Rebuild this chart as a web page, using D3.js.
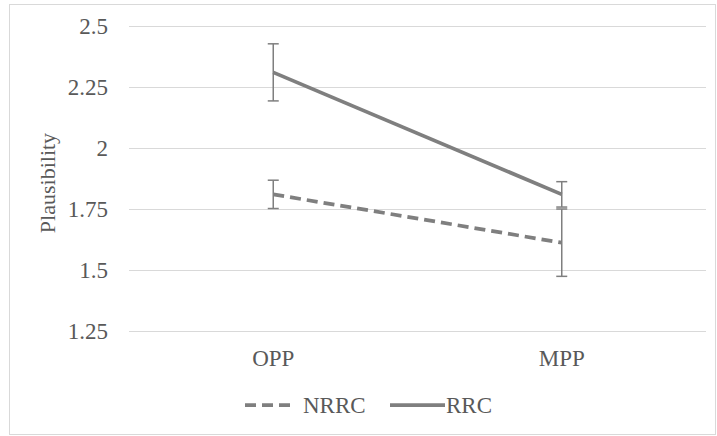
<!DOCTYPE html>
<html>
<head>
<meta charset="utf-8">
<script src="https://cdn.jsdelivr.net/npm/d3@7"></script>
<style>
  body { margin: 0; background: #fff; }
</style>
</head>
<body>
<script>
// chart values
var categories = ["OPP", "MPP"];
var seriesNames = ["NRRC", "RRC"];
var nrrcMeans = [1.81, 1.612];
var nrrcErrors = [0.058, 0.138];
var rrcMeans = [2.31, 1.81];
var rrcErrors = [0.117, 0.052];
var yTicks = [1.25, 1.5, 1.75, 2, 2.25, 2.5];

var width = 717, height = 436;
var margin = {top: 26, right: 11, bottom: 105, left: 129};
var lineColor = "#7f7f7f";
var fontFamily = "'Liberation Serif', 'Times New Roman', serif";

var svg = d3.select("body").append("svg")
  .attr("width", width)
  .attr("height", height);

// outer border
svg.append("rect")
  .attr("x", 9.5).attr("y", 4.5)
  .attr("width", 706).attr("height", 430)
  .style("fill", "none")
  .style("stroke", "#d9d9d9")
  .style("stroke-width", 1);

var x = d3.scaleBand().domain(categories)
  .range([margin.left, width - margin.right]);
var y = d3.scaleLinear().domain([1.25, 2.5])
  .range([height - margin.bottom, margin.top]);

// y axis with gridlines
var yAxis = svg.append("g")
  .attr("transform", `translate(${margin.left},0)`)
  .call(d3.axisLeft(y).tickValues(yTicks)
    .tickSize(-(width - margin.left - margin.right))
    .tickPadding(21)
    .tickFormat(function(d) { return String(d); }));
yAxis.attr("font-family", fontFamily);
yAxis.select(".domain").remove();
yAxis.selectAll("line").style("stroke", "#d9d9d9").style("stroke-width", 1);
yAxis.selectAll("text")
  .style("font-family", fontFamily)
  .style("font-size", "23px").style("fill", "#595959");

// x axis labels
var xAxis = svg.append("g")
  .attr("transform", `translate(0,${height - margin.bottom})`)
  .call(d3.axisBottom(x).tickSize(0).tickPadding(19));
xAxis.attr("font-family", fontFamily);
xAxis.select(".domain").remove();
xAxis.selectAll("text")
  .style("font-family", fontFamily)
  .style("font-size", "23px").style("fill", "#595959");

// axis title
svg.append("text")
  .attr("transform", "translate(55,183) rotate(-90)")
  .attr("text-anchor", "middle")
  .style("font-family", fontFamily)
  .style("font-size", "22px")
  .style("fill", "#595959")
  .text("Plausibility");

var series = [
  {name: "NRRC", means: nrrcMeans, errs: nrrcErrors, dash: "11,6"},
  {name: "RRC", means: rrcMeans, errs: rrcErrors, dash: null}
];

var line = d3.line()
  .x(function(d, i) { return x(categories[i]) + x.bandwidth() / 2; })
  .y(function(d) { return y(d); });

series.forEach(function(s) {
  // error bars
  var g = svg.append("g");
  s.means.forEach(function(m, i) {
    var cx = x(categories[i]) + x.bandwidth() / 2;
    var top = y(m + s.errs[i]), bot = y(m - s.errs[i]);
    g.append("line").attr("x1", cx).attr("x2", cx).attr("y1", top).attr("y2", bot)
      .style("stroke", lineColor).style("stroke-width", 1.5);
    [top, bot].forEach(function(yy) {
      g.append("line").attr("x1", cx - 5.5).attr("x2", cx + 5.5).attr("y1", yy).attr("y2", yy)
        .style("stroke", lineColor).style("stroke-width", 1.5);
    });
  });
  svg.append("path")
    .datum(s.means)
    .attr("d", line)
    .style("fill", "none")
    .style("stroke", lineColor)
    .style("stroke-width", 3.75)
    .style("stroke-dasharray", s.dash);
});

// legend
var legend = svg.append("g");
var legendItems = [
  {name: seriesNames[0], x1: 245, x2: 295, dash: "11,6"},
  {name: seriesNames[1], x1: 390, x2: 445, dash: null}
];
legendItems.forEach(function(d) {
  legend.append("line")
    .attr("x1", d.x1).attr("x2", d.x2).attr("y1", 405).attr("y2", 405)
    .style("stroke", lineColor).style("stroke-width", 3.75)
    .style("stroke-dasharray", d.dash);
  legend.append("text")
    .attr("x", d.x2 + (d.dash ? 8 : 1)).attr("y", 405)
    .attr("dy", "0.35em")
    .style("font-family", fontFamily)
    .style("font-size", "23px")
    .style("fill", "#595959")
    .text(d.name);
});
</script>
</body>
</html>
